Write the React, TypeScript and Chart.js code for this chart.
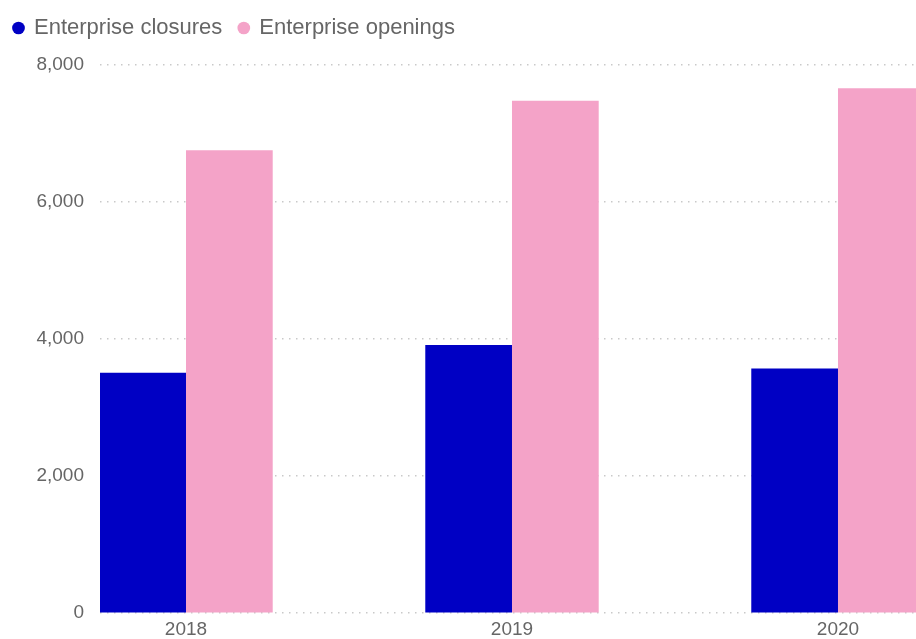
import React, { useEffect, useRef } from "react";
import { Chart, registerables } from "chart.js";

Chart.register(...registerables);

const years = [2018, 2019, 2020];
const seriesNames = ["Enterprise closures", "Enterprise openings"];
const closures = [3510, 3915, 3570];
const openings = [6755, 7480, 7660];
const yTicks = [0, 2000, 4000, 6000, 8000];

const legendSpacer = {
  id: "legendSpacer",
  beforeInit(chart: any) {
    const legend = chart.legend;
    if (!legend) return;
    const origFit = legend.fit;
    legend.fit = function () {
      origFit.call(this);
      this.height += 16;
    };
  },
};

export default function App() {
  const ref = useRef<HTMLCanvasElement | null>(null);
  useEffect(() => {
    if (!ref.current) return;
    const text = "#666666";
    const family = "'Liberation Sans', Arial, Helvetica, sans-serif";
    const chart = new Chart(ref.current, {
      type: "bar",
      data: {
        datasets: [
          {
            label: seriesNames[0],
            data: years.map((x, i) => ({ x, y: closures[i] })),
            backgroundColor: "#0000c4",
            borderWidth: 0,
          },
          {
            label: seriesNames[1],
            data: years.map((x, i) => ({ x, y: openings[i] })),
            backgroundColor: "#f4a3c8",
            borderWidth: 0,
          },
        ],
      },
      plugins: [legendSpacer],
      options: {
        animation: false,
        responsive: false,
        layout: { padding: 0 },
        datasets: { bar: { categoryPercentage: 0.532, barPercentage: 1 } },
        plugins: {
          tooltip: { enabled: false },
          legend: {
            display: true,
            position: "top",
            align: "start",
            labels: {
              usePointStyle: true,
              pointStyle: "circle",
              boxWidth: 9,
              boxHeight: 9,
              padding: 17,
              color: text,
              font: { family, size: 22 },
            },
          },
        },
        scales: {
          x: {
            type: "linear",
            min: 2017.7362,
            max: 2020.2393,
            offset: false,
            grid: { display: false, drawTicks: false },
            border: { display: false },
            ticks: {
              stepSize: 1,
              includeBounds: false,
              autoSkip: false,
              maxRotation: 0,
              padding: 5,
              color: text,
              font: { family, size: 19 },
              callback: (v: any) => {
                const idx = years.indexOf(Number(v));
                return idx >= 0 ? String(years[idx]) : "";
              },
            },
          },
          y: {
            min: yTicks[0],
            max: yTicks[yTicks.length - 1],
            afterFit: (scale: any) => {
              scale.width = 103;
            },
            afterBuildTicks: (scale: any) => {
              scale.ticks = yTicks.map((value) => ({ value }));
            },
            grid: {
              drawTicks: false,
              color: "#c9c9c9",
              lineWidth: 1.5,
            },
            border: { display: false, dash: [1.5, 5.5] },
            ticks: {
              padding: 16,
              color: text,
              font: { family, size: 19 },
              callback: (v: any) => Number(v).toLocaleString("en-US"),
            },
          },
        },
      },
    } as any);
    return () => chart.destroy();
  }, []);
  return (
    <div style={{ position: "absolute", left: -3, top: 0, width: 919, height: 639, overflow: "hidden" }}>
      <canvas ref={ref} width={919} height={646} style={{ display: "block", width: 919, height: 646 }} />
    </div>
  );
}
